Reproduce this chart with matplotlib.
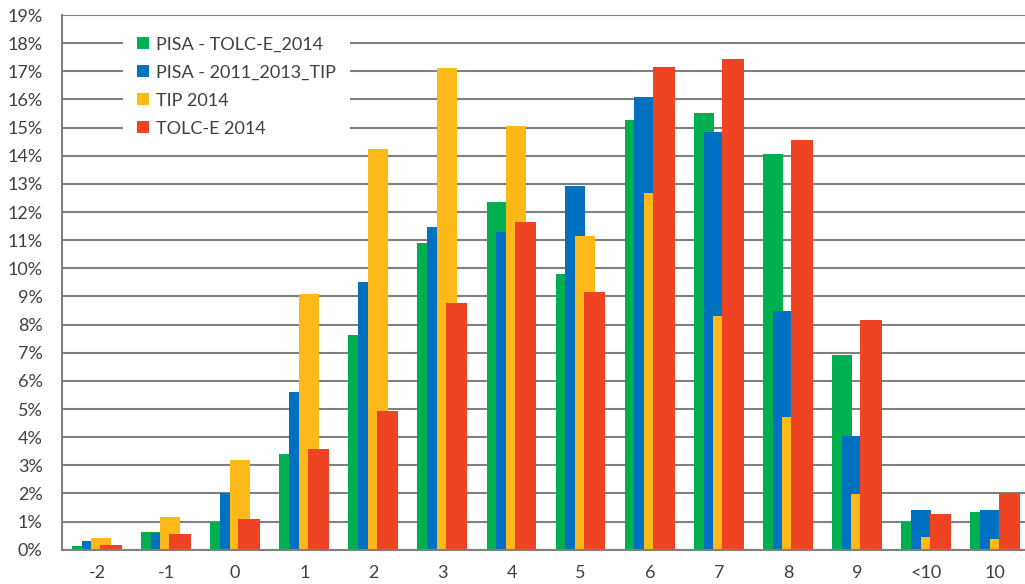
import numpy as np
import matplotlib
matplotlib.use('Agg')
import matplotlib.pyplot as plt
from matplotlib.ticker import FuncFormatter

plt.rcParams['font.family'] = ['Lato', 'DejaVu Sans']

# Values (percent)
categories = ['-2', '-1', '0', '1', '2', '3', '4', '5', '6', '7', '8', '9', '<10', '10']
series_names = ['PISA - TOLC-E_2014', 'PISA - 2011_2013_TIP', 'TIP 2014', 'TOLC-E 2014']
pisa_tolce = [0.15, 0.63, 1.00, 3.41, 7.63, 10.91, 12.36, 9.80, 15.27, 15.52, 14.06, 6.92, 1.00, 1.34]
pisa_tip = [0.32, 0.60, 2.03, 5.60, 9.52, 11.47, 11.30, 12.92, 16.07, 14.83, 8.47, 4.04, 1.40, 1.40]
tip_2014 = [0.43, 1.18, 3.18, 9.07, 14.23, 17.10, 15.07, 11.15, 12.67, 8.30, 4.71, 1.99, 0.44, 0.38]
tolce_2014 = [0.17, 0.57, 1.10, 3.57, 4.94, 8.76, 11.65, 9.16, 17.14, 17.42, 14.56, 8.16, 1.28, 2.02]

colors = ['#00B050', '#0070C0', '#FDB91A', '#EF4424']
series = [pisa_tolce, pisa_tip, tip_2014, tolce_2014]

fig = plt.figure(figsize=(10.25, 5.84), dpi=100)
ax = fig.add_axes([0.0605, 0.0586, 0.9395, 0.9157])

x = np.arange(len(categories))
offsets = [-0.217, -0.077, 0.063, 0.203]
widths = [0.29, 0.29, 0.29, 0.31]
for vals, off, w, c, name in zip(series, offsets, widths, colors, series_names):
    ax.bar(x + off, vals, width=w, color=c, label=name, zorder=3)

ax.set_xlim(-0.506, 13.43)
ax.set_ylim(0, 19)
ax.set_yticks(range(0, 20))
ax.yaxis.set_major_formatter(FuncFormatter(lambda v, p: f'{int(v)}%'))
ax.set_xticks(x)
ax.set_xticklabels(categories)
ax.grid(axis='y', color='#808080', linewidth=1.5, zorder=0)
ax.tick_params(length=0, labelsize=13, colors='#404040')
ax.tick_params(axis='y', pad=14)
ax.tick_params(axis='x', pad=11)

for s in ['top', 'right']:
    ax.spines[s].set_visible(False)
for s in ['left', 'bottom']:
    ax.spines[s].set_color('#808080')
    ax.spines[s].set_linewidth(1.5)
    ax.spines[s].set_zorder(4)

leg = ax.legend(loc='upper left', bbox_to_anchor=(123 / 1025, 1 - 22 / 584),
                bbox_transform=fig.transFigure, fontsize=13, frameon=True,
                facecolor='white', edgecolor='none', framealpha=1, fancybox=False,
                handlelength=0.66, handleheight=0.66, handletextpad=0.35,
                labelspacing=0.67, borderpad=0.8, borderaxespad=0)
for t in leg.get_texts():
    t.set_color('#404040')
leg.set_zorder(5)

fig.savefig('out.png', dpi=100)
